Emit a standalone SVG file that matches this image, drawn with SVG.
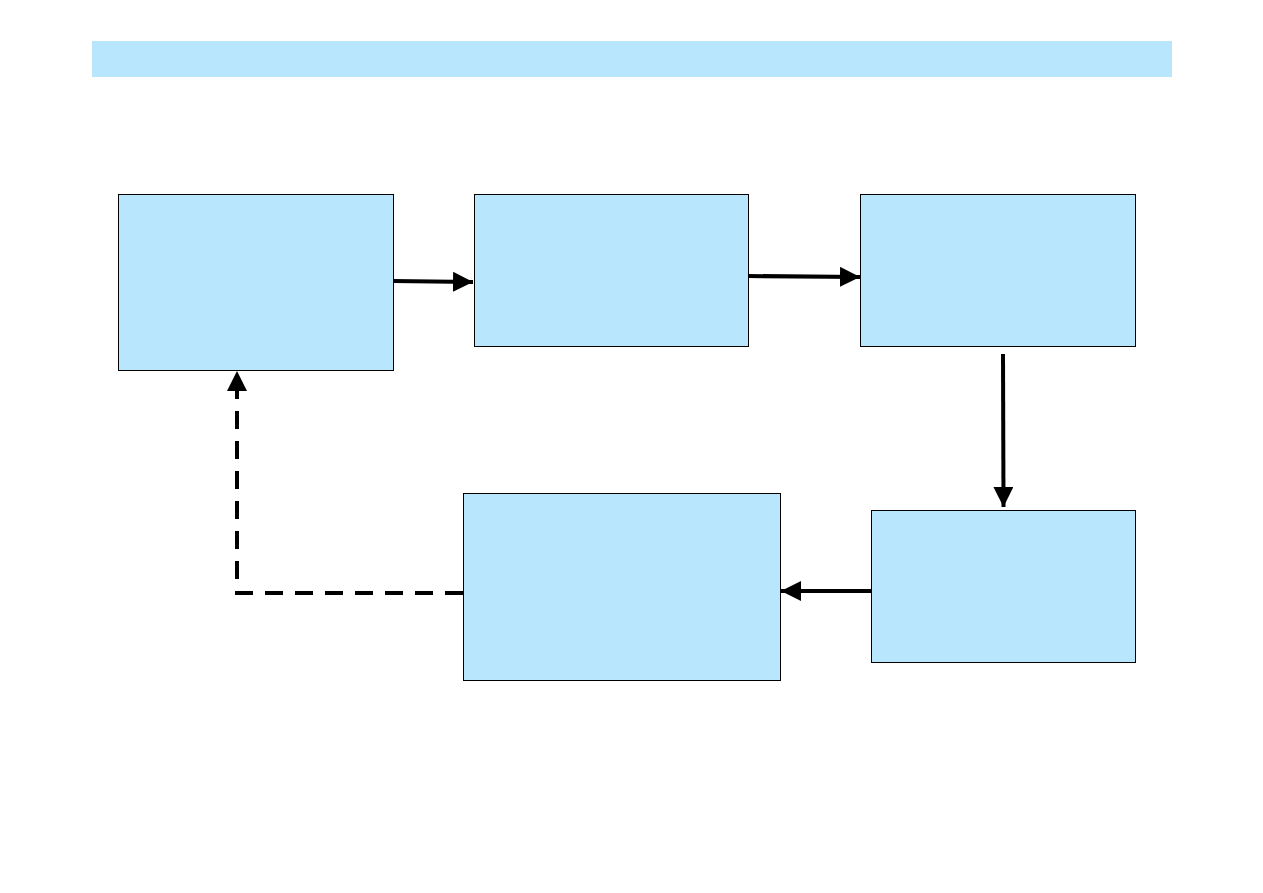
<svg xmlns="http://www.w3.org/2000/svg" width="1263" height="893" viewBox="0 0 1263 893">
<style>
.box{fill:#B8E6FD;stroke:#000;stroke-width:1}
.c{fill:none;stroke:#000;stroke-width:4}
.d{stroke-dasharray:18 12}
</style>
<defs>
<marker id="ah" markerUnits="userSpaceOnUse" markerWidth="22" markerHeight="22" refX="20" refY="10" orient="auto">
<path d="M0,0 L20,10 L0,20 Z" fill="#000"/>
</marker>
</defs>
<rect x="0" y="0" width="1263" height="893" fill="#fff"/>
<rect id="header" x="92" y="41" width="1080" height="36" fill="#B8E6FD"/>
<g id="n1"><rect class="box" x="118.5" y="194.5" width="275" height="176"/></g>
<g id="n2"><rect class="box" x="474.5" y="194.5" width="274" height="152"/></g>
<g id="n3"><rect class="box" x="860.5" y="194.5" width="275" height="152"/></g>
<g id="n4"><rect class="box" x="871.5" y="510.5" width="264" height="152"/></g>
<g id="n5"><rect class="box" x="463.5" y="493.5" width="317" height="187"/></g>
<g id="connectors">
<path class="c" d="M393,281 L473,282" marker-end="url(#ah)"/>
<path class="c" d="M748,276 L860,277" marker-end="url(#ah)"/>
<path class="c" d="M1003,354 L1003.5,507" marker-end="url(#ah)"/>
<path class="c" d="M871,591 L781,591" marker-end="url(#ah)"/>
<path class="c d" d="M463,593 L237,593 L237,371" marker-end="url(#ah)"/>
</g>
</svg>
